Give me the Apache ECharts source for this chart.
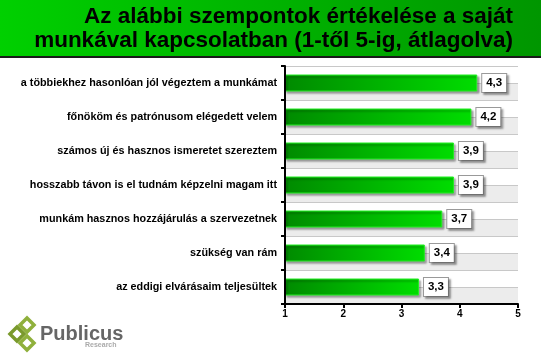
<!DOCTYPE html>
<html><head><meta charset="utf-8">
<script src="https://cdn.jsdelivr.net/npm/echarts@6/dist/echarts.min.js"></script>
<style>html,body{margin:0;padding:0;background:#fff}#c{width:541px;height:359px}</style>
</head><body><div id="c"></div>
<script>
var categories = [
  'a többiekhez hasonlóan jól végeztem a munkámat',
  'főnököm és patrónusom elégedett velem',
  'számos új és hasznos ismeretet szereztem',
  'hosszabb távon is el tudnám képzelni magam itt',
  'munkám hasznos hozzájárulás a szervezetnek',
  'szükség van rám',
  'az eddigi elvárásaim teljesültek'
];
var values = [4.3, 4.2, 3.9, 3.9, 3.7, 3.4, 3.3];
var xTicks = [1, 2, 3, 4, 5];
var titleLines = ['Az alábbi szempontok értékelése a saját', 'munkával kapcsolatban (1-től 5-ig, átlagolva)'];

var chart = echarts.init(document.getElementById('c'), null, {renderer: 'canvas'});
var F = 'Liberation Sans, Arial, sans-serif';
chart.setOption({
  animation: false,
  grid: {left: 285, right: 23, top: 66, bottom: 55, containLabel: false},
  graphic: [
    {type: 'rect', left: 0, top: 0, shape: {width: 541, height: 57}, z: -1,
     style: {fill: new echarts.graphic.LinearGradient(0, 0, 1, 0, [{offset: 0, color: '#00d000'}, {offset: 1, color: '#009600'}])}},
    {type: 'rect', left: 0, top: 56, shape: {width: 541, height: 2}, style: {fill: '#1a1a1a'}},
    {type: 'text', right: 28, top: 5, style: {text: titleLines[0], font: 'bold 22.5px ' + F, fill: '#000', textAlign: 'right'}},
    {type: 'text', right: 28, top: 29, style: {text: titleLines[1], font: 'bold 22.5px ' + F, fill: '#000', textAlign: 'right'}},
    {type: 'polygon', shape: {points: [[27, 318], [34, 325], [27, 332], [20, 325]]}, style: {fill: 'none', stroke: '#8fb03c', lineWidth: 3.5}},
    {type: 'polygon', shape: {points: [[17, 327], [24, 334], [17, 341], [10, 334]]}, style: {fill: 'none', stroke: '#7a9a2c', lineWidth: 3.5}},
    {type: 'polygon', shape: {points: [[27, 336], [34, 343], [27, 350], [20, 343]]}, style: {fill: 'none', stroke: '#8fb03c', lineWidth: 3.5}},
    {type: 'text', left: 40, top: 324, style: {text: 'Publicus', font: 'bold 20px ' + F, fill: '#666666'}},
    {type: 'text', left: 85, top: 342, style: {text: 'Research', font: 'bold 7px ' + F, fill: '#aaaaaa'}}
  ],
  xAxis: {
    type: 'value', min: 1, max: 5, interval: 1,
    data: xTicks,
    axisLine: {show: true, lineStyle: {color: '#000', width: 2}},
    axisTick: {show: true, length: 4, lineStyle: {color: '#000', width: 2}},
    axisLabel: {color: '#000', fontFamily: F, fontWeight: 'bold', fontSize: 10, margin: 5},
    splitLine: {show: false}
  },
  yAxis: [
    {
      type: 'category', data: categories, inverse: true,
      axisLine: {show: true, lineStyle: {color: '#000', width: 2}},
      axisTick: {show: true, length: 4, lineStyle: {color: '#000', width: 2}},
      axisLabel: {color: '#000', fontFamily: F, fontWeight: 'bold', fontSize: 10.8, margin: 8},
      splitLine: {show: false}, z: 5
    },
    {
      type: 'value', min: 0, max: 14, interval: 1, position: 'right',
      axisLine: {show: false}, axisTick: {show: false}, axisLabel: {show: false},
      splitLine: {show: true, lineStyle: {color: '#c8c8c8', width: 1}},
      splitArea: {show: true, areaStyle: {color: ['#ececec', '#ffffff']}}
    }
  ],
  series: [{
    type: 'bar', data: values, yAxisIndex: 0, barWidth: 17,
    itemStyle: {
      color: new echarts.graphic.LinearGradient(0, 0, 1, 0, [{offset: 0, color: '#008a00'}, {offset: 1, color: '#00dd00'}]),
      borderColor: '#22ee22', borderWidth: 1,
      shadowColor: 'rgba(0,0,0,0.35)', shadowOffsetX: 2, shadowOffsetY: 2, shadowBlur: 2
    },
    label: {
      show: true, position: 'right', distance: 5,
      formatter: function (p) { return p.value.toFixed(1).replace('.', ','); },
      color: '#000', fontFamily: F, fontWeight: 'bold', fontSize: 11.5,
      backgroundColor: '#fff', borderColor: '#9a9a9a', borderWidth: 1,
      padding: [3, 4, 3, 4],
      shadowColor: 'rgba(0,0,0,0.3)', shadowOffsetX: 2, shadowOffsetY: 2, shadowBlur: 2
    }
  }]
});
</script></body></html>
